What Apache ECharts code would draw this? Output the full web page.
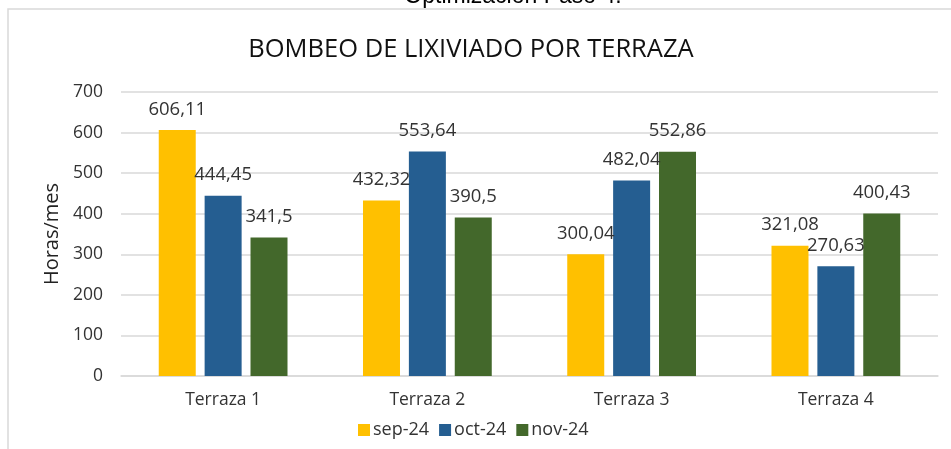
<!DOCTYPE html>
<html>
<head>
<meta charset="utf-8">
<script src="https://cdn.jsdelivr.net/npm/echarts@6/dist/echarts.min.js"></script>
<style>
html,body{margin:0;padding:0;background:#fff;}
#c{width:951px;height:449px;}
</style>
</head>
<body>
<div id="c"></div>
<script>
const categories = ['Terraza 1', 'Terraza 2', 'Terraza 3', 'Terraza 4'];
const seriesNames = ['sep-24', 'oct-24', 'nov-24'];
const sepValues = [606.11, 432.32, 300.04, 321.08];
const octValues = [444.45, 553.64, 482.04, 270.63];
const novValues = [341.5, 390.5, 552.86, 400.43];
const colors = ['#FFC000', '#255E91', '#43682B'];
const yTicks = [0, 100, 200, 300, 400, 500, 600, 700];

const FONT = '"Open Sans", "Noto Sans", sans-serif';
const chart = echarts.init(document.getElementById('c'), null, {renderer: 'canvas'});

function fmt(v) { return String(v).replace('.', ','); }

function mkSeries(name, data, color) {
  return {
    name: name,
    type: 'bar',
    data: data,
    barWidth: 37,
    barGap: '24%',
    itemStyle: { color: color },
    label: {
      show: true,
      position: 'top',
      distance: 11,
      fontFamily: FONT,
      fontSize: 18.5,
      color: '#333333',
      formatter: p => fmt(p.value)
    }
  };
}

chart.setOption({
  animation: false,
  textStyle: { fontFamily: FONT },
  graphic: [
    { type: 'rect', shape: { x: 8, y: 9, width: 960, height: 460 }, style: { fill: 'none', stroke: '#D9D9D9', lineWidth: 1.5 }, silent: true },
    { type: 'text', x: 513, y: -15, style: { text: 'Optimización Paso 4.', fontFamily: '"Liberation Sans", Arial, sans-serif', fontSize: 23, fill: '#000', align: 'center', verticalAlign: 'top' } }
  ],
  title: {
    text: 'BOMBEO DE LIXIVIADO POR TERRAZA',
    left: 466, top: 32,
    textAlign: 'center',
    textStyle: { fontFamily: FONT, fontSize: 25.5, fontWeight: 'normal', color: '#111111' }
  },
  legend: {
    data: seriesNames,
    bottom: 5,
    left: 353,
    itemWidth: 12, itemHeight: 12, itemGap: 10,
    icon: 'rect',
    textStyle: { fontFamily: FONT, fontSize: 18, color: '#333333', padding: [0, 0, 0, -2] }
  },
  grid: { left: 121, right: 13, top: 92, bottom: 73, containLabel: false },
  xAxis: {
    type: 'category',
    data: categories,
    axisTick: { show: false },
    axisLine: { lineStyle: { color: '#D9D9D9', width: 1.5 } },
    axisLabel: { fontFamily: FONT, fontSize: 17.5, color: '#333333', margin: 15 }
  },
  yAxis: {
    type: 'value',
    min: yTicks[0], max: yTicks[yTicks.length - 1], interval: 100,
    name: 'Horas/mes',
    nameLocation: 'middle',
    nameGap: 59,
    nameRotate: 90,
    nameTextStyle: { fontFamily: FONT, fontSize: 20, color: '#222222' },
    axisLine: { show: false },
    axisTick: { show: false },
    splitLine: { lineStyle: { color: '#D9D9D9', width: 1.5 } },
    axisLabel: { fontFamily: FONT, fontSize: 17.5, color: '#333333', margin: 18 }
  },
  series: [
    mkSeries(seriesNames[0], sepValues, colors[0]),
    mkSeries(seriesNames[1], octValues, colors[1]),
    mkSeries(seriesNames[2], novValues, colors[2])
  ]
});
</script>
</body>
</html>
